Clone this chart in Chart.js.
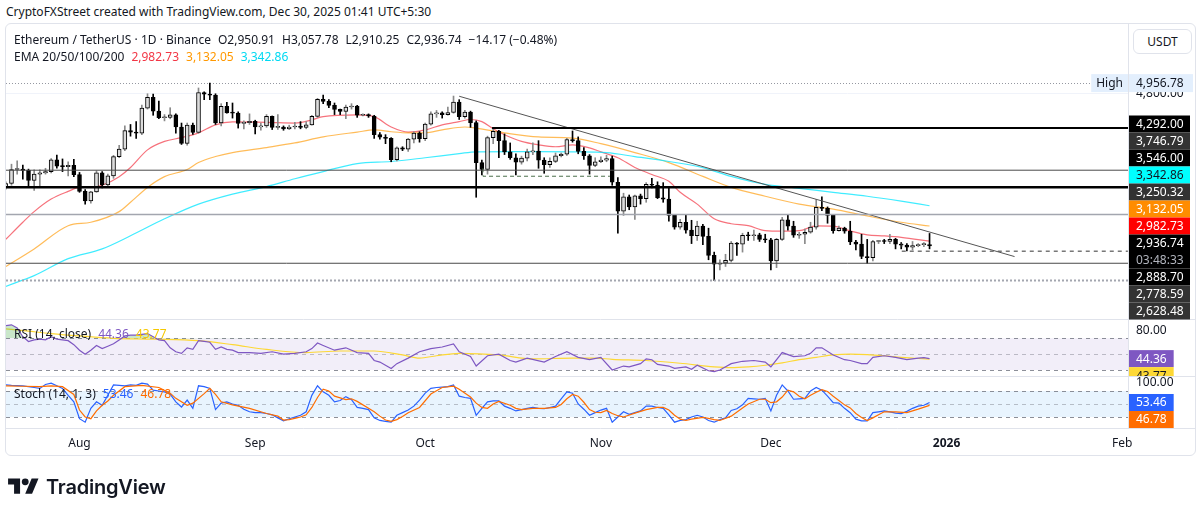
<!DOCTYPE html>
<html>
<head>
<meta charset="utf-8">
<script src="https://cdn.jsdelivr.net/npm/chart.js@4.4.1/dist/chart.umd.min.js"></script>
<style>
html, body { margin: 0; padding: 0; background: #fff; }
body { width: 1202px; height: 515px; position: relative; overflow: hidden; font-family: "Noto Sans", Roboto, sans-serif; color: #131722; }
#credit { position: absolute; left: 6px; top: 3px; font-size: 12px; line-height: 18px; }
#frame { position: absolute; left: 5px; top: 23px; width: 1191px; height: 433px; border: 1px solid #e0e3eb; border-radius: 6px; box-sizing: border-box; }
#c { position: absolute; left: 0; top: 0; }
.leg { position: absolute; left: 14px; font-size: 12px; line-height: 16px; white-space: pre; }
.leg span { margin-right: 7px; }
#usdt { position: absolute; left: 1133px; top: 29px; width: 59px; height: 25px; border: 1px solid #e0e3eb; border-radius: 6px; box-sizing: border-box; font-size: 12px; line-height: 23px; text-align: center; background: #fff; }
#logo { position: absolute; left: 8px; top: 475px; }
#logoText { position: absolute; left: 46px; top: 473px; font-family: Inter, "Noto Sans", sans-serif; font-weight: 600; font-size: 20px; line-height: 28px; letter-spacing: -0.2px; color: #131722; }
</style>
</head>
<body>
<div id="credit">CryptoFXStreet created with TradingView.com, Dec 30, 2025 01:41 UTC+5:30</div>
<div id="frame"></div>
<canvas id="c" width="1202" height="515"></canvas>
<div class="leg" style="top:32px"><span>Ethereum / TetherUS · 1D · Binance</span><span>O2,950.91</span><span>H3,057.78</span><span>L2,910.25</span><span>C2,936.74</span><span>−14.17 (−0.48%)</span></div>
<div class="leg" style="top:49px"><span>EMA 20/50/100/200</span><span style="color:#f23645">2,982.73</span><span style="color:#ff9800">3,132.05</span><span style="color:#00d9f2">3,342.86</span></div>
<div class="leg" style="top:326px"><span>RSI (14, close)</span><span style="color:#7e57c2">44.36</span><span style="color:#f5c800">43.77</span></div>
<div class="leg" style="top:386px"><span>Stoch (14, 1, 3)</span><span style="color:#2962ff">53.46</span><span style="color:#ff6d00">46.78</span></div>
<div id="usdt">USDT</div>
<svg id="logo" width="31" height="24" viewBox="0 0 36 28"><path d="M14 22H7V11H0V4h14v18zM28 22h-8l7.5-18h8L28 22z" fill="#131722"/><circle cx="20" cy="8" r="4" fill="#131722"/></svg>
<div id="logoText">TradingView</div>
<script>
// day index counted from Aug 1 2025; first candle is Jul 19
const FIRST_DAY = -13;

const opens = [
  3545, 3590, 3755, 3760, 3745, 3625, 3700, 3715, 3730, 3875, 3795, 3790, 3805,
  3695, 3500, 3395, 3495, 3715, 3575, 3680, 3915, 4010, 4255, 4235, 4220, 4575, 4735, 4530, 4435,
  4440, 4475, 4305, 4085, 4330, 4230, 4810, 4785, 4770, 4360, 4600, 4505, 4500, 4355, 4365,
  4385, 4305, 4320, 4455, 4300, 4305, 4280, 4305, 4310, 4300, 4335, 4455, 4705, 4675, 4615,
  4555, 4525, 4590, 4605, 4470, 4480, 4460, 4200, 4165, 4150, 3875, 4025, 4010, 4140, 4220,
  4145, 4345, 4490, 4505, 4480, 4510, 4665, 4450, 4515, 4365, 3840, 3755, 4160, 4245, 4120, 3975,
  3900, 3845, 3895, 3975, 3985, 3870, 3815, 3855, 3925, 3945, 4135, 4120, 3980, 3925, 3805,
  3850, 3870, 3890, 3605, 3285, 3440, 3330, 3450, 3420, 3580, 3570, 3430, 3415, 3240, 3120,
  3170, 3090, 3035, 3130, 3030, 2850, 2770, 2780, 2805, 2965, 2955, 3040, 3035, 3045, 3000,
  2995, 2800, 3000, 3195, 3130, 3040, 3050, 3070, 3120, 3325, 3315, 3240, 3085, 3110, 3080,
  2975, 2955, 2840, 2830, 2980, 2985, 2980, 3000, 2955, 2945, 2925, 2940, 2950, 2950.91
];
const highs = [
  3610, 3820, 3860, 3810, 3760, 3750, 3750, 3770, 3890, 3935, 3885, 3850, 3880,
  3720, 3520, 3500, 3740, 3730, 3700, 3930, 4060, 4320, 4340, 4380, 4620, 4790, 4785, 4680, 4480,
  4580, 4490, 4360, 4360, 4360, 4880, 4820, 4956.78, 4790, 4640, 4660, 4650, 4520, 4390, 4490,
  4400, 4360, 4480, 4460, 4480, 4320, 4330, 4370, 4380, 4380, 4470, 4720, 4770, 4700, 4650,
  4560, 4620, 4640, 4615, 4490, 4490, 4470, 4230, 4200, 4160, 4040, 4040, 4150, 4240, 4240,
  4360, 4520, 4540, 4520, 4590, 4755, 4700, 4540, 4530, 4390, 3870, 4180, 4290, 4260, 4210, 4090,
  3950, 3920, 4010, 4090, 4120, 3900, 3900, 3960, 3960, 4150, 4250, 4170, 4030, 3940, 3900,
  3910, 3930, 3920, 3660, 3480, 3460, 3460, 3470, 3600, 3650, 3610, 3600, 3550, 3250, 3200,
  3240, 3190, 3180, 3150, 3110, 2880, 2810, 2860, 2980, 2970, 3060, 3070, 3090, 3060, 3050,
  3010, 3010, 3220, 3240, 3180, 3070, 3100, 3170, 3410, 3440, 3330, 3250, 3130, 3120, 3180,
  2990, 3050, 3000, 2990, 2990, 3000, 3050, 3010, 2970, 2960, 2980, 2960, 2970, 3057.78
];
const lows = [
  3525, 3570, 3700, 3640, 3550, 3510, 3550, 3700, 3715, 3770, 3730, 3680, 3670,
  3490, 3360, 3370, 3490, 3540, 3560, 3650, 3900, 3990, 4180, 4150, 4200, 4560, 4470, 4420, 4390,
  4420, 4220, 4070, 4060, 4205, 4220, 4700, 4700, 4340, 4320, 4500, 4430, 4290, 4280, 4340,
  4210, 4260, 4300, 4270, 4270, 4260, 4270, 4280, 4280, 4280, 4330, 4440, 4640, 4580, 4480,
  4480, 4420, 4560, 4440, 4460, 4440, 4150, 4140, 4080, 3850, 3860, 3990, 3980, 4090, 4100,
  4120, 4330, 4440, 4430, 4470, 4500, 4410, 4430, 4300, 3435, 3690, 3700, 4080, 3900, 3940, 3880,
  3690, 3820, 3860, 3940, 3770, 3710, 3780, 3840, 3910, 3930, 4100, 3950, 3880, 3700, 3790,
  3840, 3850, 3570, 3060, 3240, 3300, 3200, 3360, 3380, 3540, 3420, 3380, 3180, 3100, 3100,
  3060, 2960, 2990, 2950, 2810, 2628.48, 2720, 2750, 2790, 2850, 2880, 2990, 2990, 2980, 2970,
  2720, 2740, 2990, 3090, 3020, 3010, 2960, 3060, 3100, 3290, 3160, 3060, 3080, 3060, 2950,
  2900, 2820, 2778.59, 2800, 2960, 2960, 2960, 2910, 2910, 2890, 2900, 2930, 2930, 2910.25
];
const closes = [
  3590, 3755, 3760, 3745, 3625, 3700, 3715, 3730, 3875, 3795, 3790, 3805, 3695,
  3500, 3395, 3495, 3715, 3575, 3680, 3915, 4010, 4255, 4235, 4220, 4575, 4735, 4530, 4435, 4440,
  4475, 4305, 4085, 4330, 4230, 4810, 4785, 4770, 4360, 4600, 4505, 4500, 4355, 4365, 4385,
  4305, 4320, 4455, 4300, 4305, 4280, 4305, 4310, 4300, 4335, 4455, 4705, 4675, 4615, 4555,
  4525, 4590, 4605, 4470, 4480, 4460, 4200, 4165, 4150, 3875, 4025, 4010, 4140, 4220, 4145,
  4345, 4490, 4505, 4480, 4510, 4665, 4450, 4515, 4365, 3840, 3755, 4160, 4245, 4120, 3975, 3900,
  3845, 3895, 3975, 3985, 3870, 3815, 3855, 3925, 3945, 4135, 4120, 3980, 3925, 3805, 3850,
  3870, 3890, 3605, 3285, 3440, 3330, 3450, 3420, 3580, 3570, 3430, 3415, 3240, 3120, 3170,
  3090, 3035, 3130, 3030, 2850, 2770, 2780, 2805, 2965, 2955, 3040, 3035, 3045, 3000, 2995,
  2800, 3000, 3195, 3130, 3040, 3050, 3070, 3120, 3325, 3315, 3240, 3085, 3110, 3080, 2975,
  2955, 2840, 2830, 2980, 2985, 2980, 3000, 2955, 2945, 2925, 2940, 2950, 2950.91, 2936.74
];

// moving averages: [day, value]
const ema20 = [[-13, 3000], [-10, 3170], [-8, 3280], [-5, 3415], [-2, 3500], [0, 3545], [2, 3548], [4, 3570],
  [7, 3670], [9, 3780], [12, 4000], [15, 4110], [18, 4160], [21, 4225], [24, 4335], [27, 4375], [33, 4370],
  [38, 4360], [41, 4405], [43, 4450], [49, 4475], [52, 4450], [55, 4305], [58, 4235], [61, 4265], [64, 4335],
  [67, 4380], [69, 4410], [71, 4380], [73, 4280], [75, 4200], [78, 4110], [81, 4065], [84, 4040], [87, 4065],
  [90, 4025], [92, 3975], [95, 3900], [98, 3780], [101, 3695], [104, 3615], [106, 3490], [109, 3360],
  [112, 3205], [115, 3155], [118, 3135], [121, 3085], [124, 3080], [127, 3085], [130, 3133], [133, 3130],
  [136, 3083], [139, 3044], [142, 3034], [145, 3020], [150, 2982.73]];
const ema50 = [[-13, 2750], [-8, 2910], [-2, 3135], [2, 3170], [7, 3280], [9, 3380], [12, 3545], [15, 3670],
  [19, 3755], [21, 3840], [24, 3915], [27, 3965], [33, 4030], [38, 4090], [43, 4170], [49, 4235], [52, 4265],
  [55, 4240], [58, 4225], [61, 4225], [64, 4265], [68, 4305], [70, 4290], [75, 4225], [81, 4170], [87, 4155],
  [92, 4080], [98, 3965], [104, 3840], [110, 3673], [115, 3546], [121, 3446], [127, 3360], [133, 3307],
  [139, 3235], [145, 3170], [150, 3132.05]];
const ema100 = [[-13, 2580], [-8, 2670], [-2, 2820], [4, 2910], [9, 3035], [15, 3205], [21, 3360], [27, 3470],
  [33, 3555], [38, 3645], [43, 3730], [49, 3828], [55, 3853], [61, 3900], [67, 3952], [70, 3975], [80, 3978],
  [87, 3975], [93, 3964], [98, 3915], [104, 3853], [110, 3779], [115, 3673], [121, 3580], [127, 3535],
  [133, 3490], [139, 3446], [145, 3392], [150, 3342.86]];

// oscillators: [day, value]
const rsi = [[-13, 86], [-12, 87], [-11, 83], [-10, 72], [-9, 66], [-8, 68], [-7, 69], [-6, 68], [-5, 72],
  [-4, 69], [-3, 68], [-2, 67], [-1, 62], [0, 55], [1, 50], [2, 55], [3, 61], [4, 57], [5, 60], [6, 63],
  [7, 68], [8, 73], [9, 74], [10, 74], [11, 75], [12, 76], [13, 72], [14, 68], [15, 67], [16, 58], [17, 53],
  [18, 51], [19, 58], [20, 56], [21, 67], [22, 66], [23, 65], [24, 56], [25, 59], [26, 56], [27, 55], [28, 52],
  [30, 52], [32, 51], [34, 53], [36, 50], [38, 51], [40, 53], [41, 57], [42, 64], [43, 61], [45, 55], [47, 58],
  [49, 52], [51, 51], [52, 42], [53, 40], [55, 32], [56, 38], [58, 45], [60, 53], [62, 57], [64, 59], [66, 63],
  [67, 53], [69, 47], [70, 35], [72, 48], [74, 50], [76, 42], [77, 40], [79, 45], [82, 40], [84, 47], [86, 53],
  [88, 46], [90, 43], [92, 46], [94, 30], [96, 35], [97, 34], [99, 38], [100, 44], [101, 43], [102, 37],
  [104, 35], [105, 32], [107, 34], [108, 31], [109, 36], [111, 29], [112, 28], [113, 30], [115, 38], [117, 41],
  [119, 42], [121, 40], [122, 34], [124, 52], [126, 47], [128, 48], [129, 51], [130, 58], [131, 58], [133, 49],
  [135, 43], [136, 42], [138, 38], [139, 38], [140, 46], [142, 48], [144, 46], [146, 43], [148, 45], [149, 45.6],
  [150, 44.36]];
const rsiMa = [[-13, 82], [-9, 79], [-5, 76], [0, 73], [6, 70], [13, 69], [21, 67], [27, 62], [33, 56], [40, 52],
  [46, 54], [52, 54], [57, 49], [60, 45], [63, 48], [67, 51], [74, 49], [80, 44], [87, 45], [91, 45], [94, 43.5],
  [100, 42], [106, 38.5], [112, 34], [115, 33], [118, 34], [121, 36], [124, 39], [127, 43], [130, 46], [133, 49],
  [136, 50], [139, 49.5], [142, 48], [145, 46], [148, 44.5], [150, 43.77]];
const stochK = [[-13, 94], [-12, 93], [-10, 92], [-8, 88], [-7, 86], [-6, 95], [-5, 98], [-4, 92], [-3, 86],
  [-2, 70], [-1, 55], [0, 16], [1, 8], [2, 40], [3, 55], [4, 47], [5, 70], [6, 94], [7, 93], [8, 92], [9, 94],
  [10, 93], [11, 98], [12, 96], [13, 82], [14, 80], [15, 78], [16, 73], [17, 55], [18, 43], [19, 59], [20, 40],
  [21, 92], [22, 90], [23, 86], [24, 37], [25, 52], [26, 55], [27, 50], [28, 47], [29, 38], [30, 32], [31, 30],
  [32, 30], [33, 28], [34, 25], [35, 18], [36, 11], [37, 16], [38, 20], [39, 24], [40, 32], [41, 70], [42, 92],
  [43, 78], [44, 70], [45, 55], [46, 58], [47, 67], [48, 60], [49, 42], [50, 40], [51, 37], [52, 18], [53, 12],
  [54, 10], [55, 8], [56, 24], [57, 30], [58, 36], [59, 45], [60, 59], [61, 75], [62, 86], [63, 88], [64, 89],
  [65, 90], [66, 94], [67, 68], [68, 65], [69, 63], [70, 24], [71, 40], [72, 55], [73, 57], [74, 57], [75, 45],
  [76, 40], [77, 34], [78, 37], [79, 40], [80, 42], [81, 40], [82, 39], [83, 42], [84, 45], [85, 62], [86, 78],
  [87, 75], [88, 50], [89, 38], [90, 24], [91, 30], [92, 36], [93, 40], [94, 8], [95, 20], [96, 32], [97, 26],
  [98, 30], [99, 34], [100, 45], [101, 45], [102, 42], [103, 40], [104, 25], [105, 8], [106, 12], [107, 14],
  [108, 20], [109, 24], [110, 20], [111, 12], [112, 8], [113, 14], [114, 18], [115, 35], [116, 39], [117, 48],
  [118, 63], [119, 62], [120, 61], [121, 63], [122, 34], [123, 70], [124, 94], [125, 80], [126, 61], [127, 62],
  [128, 63], [129, 80], [130, 88], [131, 82], [132, 68], [133, 53], [134, 52], [135, 40], [136, 30], [137, 15],
  [138, 11], [139, 11], [140, 30], [141, 32], [142, 34], [143, 32], [144, 29], [145, 28], [146, 33], [147, 40],
  [148, 45], [149, 47], [150, 53.46]];
const stochD = [[-13, 92], [-10, 91], [-7, 90], [-5, 92], [-3, 90], [-1, 72], [0, 36], [1, 20], [2, 16], [3, 34],
  [4, 47], [5, 57], [6, 70], [8, 90], [11, 93], [14, 88], [16, 75], [17, 63], [19, 47], [20, 52], [22, 74],
  [23, 86], [24, 72], [25, 55], [27, 48], [30, 40], [33, 28], [35, 22], [36, 13], [37, 14], [38, 17], [39, 20],
  [40, 25], [41, 42], [42, 65], [43, 84], [44, 80], [45, 68], [47, 60], [48, 62], [49, 56], [51, 40], [52, 32],
  [53, 22], [54, 13], [55, 10], [56, 14], [57, 21], [58, 30], [60, 42], [62, 73], [64, 88], [66, 91], [67, 84],
  [69, 66], [70, 52], [71, 42], [72, 40], [73, 50], [74, 56], [76, 47], [77, 40], [78, 37], [80, 40], [82, 40],
  [84, 42], [85, 49], [86, 62], [87, 72], [88, 68], [89, 54], [90, 37], [91, 31], [92, 30], [93, 35], [94, 28],
  [95, 23], [96, 20], [98, 29], [100, 37], [102, 42], [103, 42], [104, 36], [105, 24], [106, 15], [107, 12],
  [108, 15], [110, 19], [111, 17], [112, 14], [113, 12], [115, 22], [117, 41], [118, 50], [120, 61], [121, 61],
  [122, 53], [123, 55], [124, 66], [125, 82], [126, 78], [127, 68], [128, 62], [129, 70], [130, 77], [131, 83],
  [132, 79], [133, 68], [134, 58], [135, 48], [136, 41], [137, 28], [138, 19], [139, 12], [140, 18], [141, 25],
  [142, 32], [144, 32], [146, 30], [148, 38], [150, 46.78]];

// time axis
const monthDays = [0, 31, 61, 92, 122, 153, 184];
const monthLabels = ['Aug', 'Sep', 'Oct', 'Nov', 'Dec', '2026', 'Feb'];

// drawn levels and lines
const resistance = 4292;
const levelA = 3746.79;
const support = 3546;
const levelB = 3250.32;
const levelC = 2888.70;
const levelD = 2778.59;
const levelE = 2628.48;
const trendLine = [[67, 4752], [165, 2839]];
const rangeBox = [[71.2, 3770], [71.2, 3675], [93.6, 3675]];
const baseBox = [[145.1, 2964], [145.1, 2888.70], [185, 2888.70]];
const resistanceFrom = 72.8;
const countdown = '03:48:33';

const X_MIN = -12.97, X_MAX = 185.02;
const FONT = '"Noto Sans", Roboto, sans-serif';
const fmt = v => v.toLocaleString('en-US', { minimumFractionDigits: 2, maximumFractionDigits: 2 });
const pts = arr => arr.map(([x, y]) => ({ x, y }));
const last = arr => arr[arr.length - 1][1];
const isUp = i => closes[i] >= opens[i];

const wickData = closes.map((c, i) => ({ x: FIRST_DAY + i, y: [lows[i], highs[i]] }));
const bodyData = closes.map((c, i) => ({ x: FIRST_DAY + i, y: [opens[i], c] }));

function hline(value, from, to, color, width, dash) {
  return { type: 'line', yAxisID: 'y', data: [{ x: from, y: value }, { x: to, y: value }],
    borderColor: color, borderWidth: width, borderDash: dash || [], pointRadius: 0, order: 0, clip: 0 };
}
function path(arr, color, width, dash) {
  return { type: 'line', yAxisID: 'y', data: pts(arr), borderColor: color, borderWidth: width,
    borderDash: dash || [], pointRadius: 0, order: 0, clip: 0 };
}
function emaLine(arr, color) {
  return { type: 'line', yAxisID: 'y', data: pts(arr), borderColor: color, borderWidth: 1.2,
    pointRadius: 0, cubicInterpolationMode: 'monotone', order: 5, clip: 0 };
}
function oscLine(arr, axis, color, extra) {
  return Object.assign({ type: 'line', yAxisID: axis, data: pts(arr), borderColor: color, borderWidth: 1.2,
    pointRadius: 0, tension: 0, order: 1, clip: 0, fill: false }, extra || {});
}

const paneDecor = {
  id: 'paneDecor',
  beforeDatasetsDraw(chart) {
    const { ctx, chartArea: a, scales } = chart;
    const { y, yr, ys } = scales;
    ctx.save();
    ctx.fillStyle = 'rgba(126,87,194,0.10)';
    ctx.fillRect(a.left, yr.getPixelForValue(70), a.width, yr.getPixelForValue(30) - yr.getPixelForValue(70));
    ctx.fillStyle = 'rgba(33,150,243,0.10)';
    ctx.fillRect(a.left, ys.getPixelForValue(80), a.width, ys.getPixelForValue(20) - ys.getPixelForValue(80));
    ctx.lineWidth = 1;
    ctx.setLineDash([4, 4]);
    const dashed = (scale, v, col) => {
      const py = Math.round(scale.getPixelForValue(v)) + 0.5;
      ctx.strokeStyle = col;
      ctx.beginPath(); ctx.moveTo(a.left, py); ctx.lineTo(a.right, py); ctx.stroke();
    };
    dashed(yr, 70, 'rgba(120,123,134,0.85)'); dashed(yr, 50, 'rgba(120,123,134,0.45)'); dashed(yr, 30, 'rgba(120,123,134,0.85)');
    dashed(ys, 80, 'rgba(120,123,134,0.85)'); dashed(ys, 50, 'rgba(120,123,134,0.45)'); dashed(ys, 20, 'rgba(120,123,134,0.85)');
    // ATH marker line
    const hi = Math.max(...highs);
    const hy = Math.round(y.getPixelForValue(hi)) + 0.5;
    ctx.setLineDash([1, 2]);
    ctx.strokeStyle = '#9598a1';
    ctx.beginPath(); ctx.moveTo(a.left, hy); ctx.lineTo(a.right - 31, hy); ctx.stroke();
    ctx.restore();
  },
  afterDraw(chart) {
    const { ctx, chartArea: a, scales } = chart;
    const { y, yr, ys } = scales;
    ctx.save();
    // pane separators and price-scale edge
    ctx.strokeStyle = '#e0e3eb';
    ctx.lineWidth = 1;
    ctx.beginPath();
    [yr.top, ys.top].forEach(t => { const py = Math.round(t) + 0.5; ctx.moveTo(a.left, py); ctx.lineTo(1195, py); });
    ctx.moveTo(Math.round(a.right) + 0.5, 24); ctx.lineTo(Math.round(a.right) + 0.5, a.bottom);
    ctx.moveTo(a.left, Math.round(a.bottom) + 0.5); ctx.lineTo(1195, Math.round(a.bottom) + 0.5);
    ctx.stroke();

    ctx.font = '12px ' + FONT;
    ctx.textBaseline = 'middle';
    const H = 17;
    const axisX = a.right + 1;
    const drawBox = (it, top) => {
      const w = ctx.measureText(it.text).width + 14;
      ctx.fillStyle = it.bg;
      ctx.fillRect(axisX, top, it.full ? 61 : w, it.h);
      ctx.fillStyle = it.fg;
      ctx.fillText(it.text, axisX + 7, top + 9);
      if (it.sub) { ctx.fillStyle = '#b2b5be'; ctx.fillText(it.sub, axisX + 7, top + 26); }
    };
    const place = (items, maxY) => {
      items.forEach(it => { it.h = it.sub ? 2 * H : H; it.top = it.py - H / 2; });
      items.sort((p, q) => p.py - q.py);
      let prev = -Infinity;
      items.forEach(it => { it.top = Math.max(it.top, prev); prev = it.top + it.h; });
      if (maxY !== undefined) {
        let next = maxY;
        for (let i = items.length - 1; i >= 0; i--) {
          if (items[i].top + items[i].h > next) items[i].top = next - items[i].h;
          next = items[i].top;
        }
      }
    };

    // ATH label
    const hi = Math.max(...highs);
    const hy = y.getPixelForValue(hi);
    const hw = ctx.measureText('High').width + 10;
    ctx.fillStyle = '#e3effd';
    ctx.fillRect(axisX - hw - 1, hy - 9, hw, 18);
    ctx.fillRect(axisX, hy - 9, 64, 18);
    ctx.fillStyle = '#131722';
    ctx.fillText('High', axisX - hw + 4, hy);
    ctx.fillText(fmt(hi), axisX + 7, hy);

    const priceItems = [
      { v: resistance, bg: '#000000', fg: '#ffffff' },
      { v: levelA, bg: '#333333', fg: '#ffffff' },
      { v: support, bg: '#000000', fg: '#ffffff' },
      { v: last(ema100), bg: '#00ffff', fg: '#131722' },
      { v: levelB, bg: '#333333', fg: '#ffffff' },
      { v: last(ema50), bg: '#ff8c00', fg: '#ffffff' },
      { v: last(ema20), bg: '#ff0000', fg: '#ffffff' },
      { v: closes[closes.length - 1], bg: '#000000', fg: '#ffffff', sub: countdown },
      { v: levelC, bg: '#000000', fg: '#ffffff' },
      { v: levelD, bg: '#333333', fg: '#ffffff' },
      { v: levelE, bg: '#333333', fg: '#ffffff' }
    ].map(it => Object.assign(it, { py: y.getPixelForValue(it.v), text: fmt(it.v), full: true }));
    place(priceItems, y.bottom + 0.5);
    priceItems.forEach(it => drawBox(it, it.top));

    const oscPane = (scale, items) => {
      items.forEach(it => { it.py = scale.getPixelForValue(it.v); it.text = fmt(it.v); });
      place(items);
      ctx.save();
      ctx.beginPath(); ctx.rect(axisX, scale.top, 70, scale.bottom - scale.top); ctx.clip();
      items.forEach(it => drawBox(it, it.top));
      ctx.restore();
    };
    oscPane(yr, [{ v: last(rsi), bg: '#7e57c2', fg: '#ffffff' }, { v: last(rsiMa), bg: '#fdd835', fg: '#131722' }]);
    oscPane(ys, [{ v: last(stochK), bg: '#2962ff', fg: '#ffffff' }, { v: last(stochD), bg: '#ff6d00', fg: '#ffffff' }]);
    ctx.restore();
  }
};

Chart.defaults.font.family = FONT;
Chart.defaults.color = '#131722';

const fixW = s => { s.width = 62; };
const oneTick = v => s => { s.ticks = [{ value: v }]; };
const tickStyle = { font: { size: 12 }, color: '#131722', padding: 8, callback: v => fmt(v) };

new Chart(document.getElementById('c'), {
  data: {
    datasets: [
      emaLine(ema100, 'rgba(0,229,255,0.75)'),
      emaLine(ema50, 'rgba(255,152,0,0.65)'),
      emaLine(ema20, 'rgba(242,54,69,0.7)'),
      { type: 'bar', yAxisID: 'y', data: wickData, grouped: false, barThickness: 1, order: 3, clip: 0,
        backgroundColor: c => isUp(c.dataIndex) ? '#8a8a8a' : '#000000' },
      { type: 'bar', yAxisID: 'y', data: bodyData, grouped: false, barThickness: 4, order: 2, clip: 0, minBarLength: 1,
        borderWidth: 1, borderSkipped: false, borderColor: '#000000',
        backgroundColor: c => isUp(c.dataIndex) ? '#dcdcdc' : '#000000' },
      hline(resistance, resistanceFrom, X_MAX, '#000000', 2),
      hline(levelA, X_MIN, X_MAX, '#4a4a4a', 1),
      hline(support, X_MIN, X_MAX, '#000000', 2.5),
      hline(levelB, X_MIN, X_MAX, '#a3a6af', 1.5),
      hline(levelD, X_MIN, X_MAX, '#4a4a4a', 1),
      hline(levelE, X_MIN, X_MAX, '#a3a6af', 2, [2, 2]),
      path(trendLine, '#555555', 1),
      path(rangeBox, '#4b6e4b', 1, [4, 3]),
      path(baseBox, '#333333', 1, [4, 4]),
      oscLine(rsi, 'yr', 'rgba(0,0,0,0)', { borderWidth: 0, order: 2,
        fill: { target: { value: 30 }, above: 'rgba(0,0,0,0)', below: 'rgba(242,54,69,0.25)' } }),
      oscLine(rsi, 'yr', '#7e57c2', { fill: { target: { value: 70 }, above: 'rgba(76,175,80,0.3)', below: 'rgba(0,0,0,0)' } }),
      oscLine(rsiMa, 'yr', '#fdd835', { cubicInterpolationMode: 'monotone' }),
      oscLine(stochD, 'ys', '#ff6d00'),
      oscLine(stochK, 'ys', '#2962ff')
    ]
  },
  options: {
    responsive: false,
    animation: false,
    devicePixelRatio: 1,
    events: [],
    layout: { padding: { left: 6, right: 12, top: 28, bottom: 60 } },
    plugins: { legend: { display: false }, tooltip: { enabled: false } },
    scales: {
      x: {
        type: 'linear', min: X_MIN, max: X_MAX, offset: false,
        afterFit: s => { s.height = 27; },
        afterBuildTicks: s => { s.ticks = monthDays.map(v => ({ value: v })); },
        grid: { display: false, drawTicks: false },
        border: { display: false },
        ticks: {
          padding: 8, maxRotation: 0, autoSkip: false, color: '#131722',
          font: c => ({ size: 12, weight: c.tick && c.tick.value === 153 ? 'bold' : 'normal' }),
          callback: v => monthLabels[monthDays.indexOf(v)]
        }
      },
      y: {
        type: 'logarithmic', position: 'right', stack: 'panes', stackWeight: 291, weight: 1,
        min: 2323, max: 5917, bounds: 'data', afterFit: fixW, afterBuildTicks: oneTick(4800),
        grid: { color: '#f0f3fa', drawTicks: false }, border: { display: false }, ticks: tickStyle
      },
      yr: {
        type: 'linear', position: 'right', stack: 'panes', stackWeight: 57, weight: 2,
        min: 22.43, max: 94.35, bounds: 'data', afterFit: fixW, afterBuildTicks: oneTick(80),
        grid: { display: false, drawTicks: false }, border: { display: false }, ticks: tickStyle
      },
      ys: {
        type: 'linear', position: 'right', stack: 'panes', stackWeight: 52, weight: 3,
        min: -5.4, max: 114.6, bounds: 'data', afterFit: fixW, afterBuildTicks: oneTick(100),
        grid: { display: false, drawTicks: false }, border: { display: false }, ticks: tickStyle
      }
    }
  },
  plugins: [paneDecor]
});
</script>
</body>
</html>
